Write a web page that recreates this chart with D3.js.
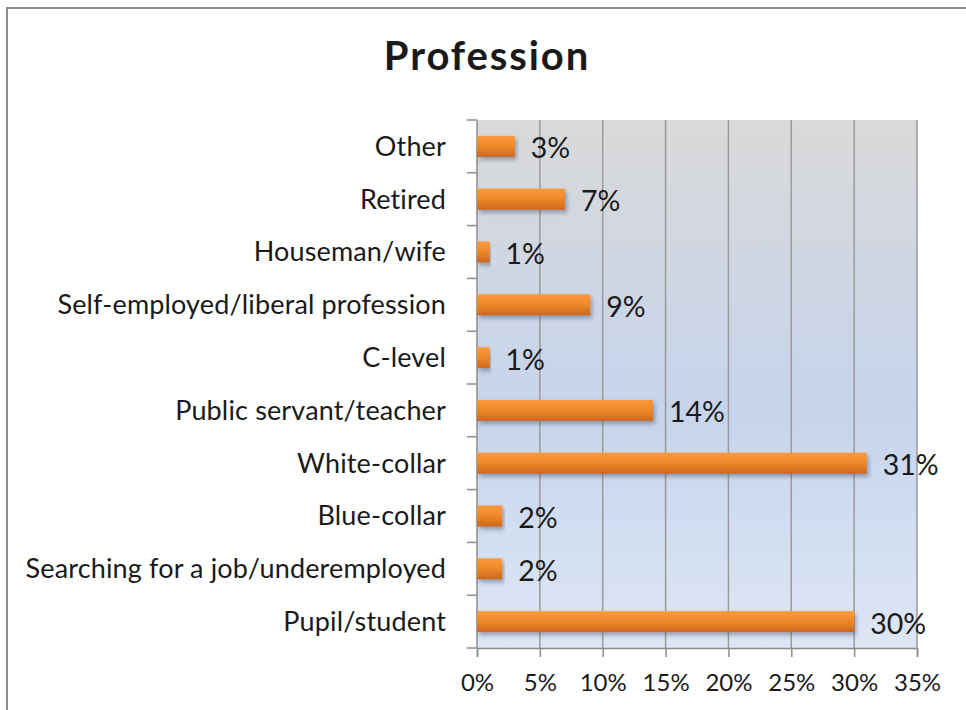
<!DOCTYPE html>
<html>
<head>
<meta charset="utf-8">
<script src="https://cdn.jsdelivr.net/npm/d3@7"></script>
<style>
  html, body { margin: 0; padding: 0; background: #ffffff; }
  svg { display: block; }
  text { font-family: Lato, "Open Sans", sans-serif; fill: #1a1a1a; }
</style>
</head>
<body>
<svg id="chart" width="966" height="710"></svg>
<script>
// Survey answers, listed top to bottom as they appear on the chart
const categories = [
  "Other",
  "Retired",
  "Houseman/wife",
  "Self-employed/liberal profession",
  "C-level",
  "Public servant/teacher",
  "White-collar",
  "Blue-collar",
  "Searching for a job/underemployed",
  "Pupil/student"
];
const shares = [3, 7, 1, 9, 1, 14, 31, 2, 2, 30];   // percent of respondents
const xTicks = [0, 5, 10, 15, 20, 25, 30, 35];
const chartTitle = "Profession";

const svg = d3.select("#chart");
const W = 966, H = 710;
const plot = { left: 477, right: 917, top: 120, bottom: 648 };

const defs = svg.append("defs");

const bg = defs.append("linearGradient")
  .attr("id", "plotBg").attr("x1", 0).attr("y1", 0).attr("x2", 0).attr("y2", 1);
bg.append("stop").attr("offset", "0%").attr("stop-color", "#d9d9d9");
bg.append("stop").attr("offset", "55%").attr("stop-color", "#c6d4ec");
bg.append("stop").attr("offset", "100%").attr("stop-color", "#dde6f4");

const barGrad = defs.append("linearGradient")
  .attr("id", "barFill").attr("x1", 0).attr("y1", 0).attr("x2", 0).attr("y2", 1);
barGrad.append("stop").attr("offset", "0%").attr("stop-color", "#fa9a3c");
barGrad.append("stop").attr("offset", "45%").attr("stop-color", "#f08a2c");
barGrad.append("stop").attr("offset", "100%").attr("stop-color", "#cc681e");

const shadow = defs.append("filter")
  .attr("id", "barShadow").attr("x", "-5%").attr("y", "-30%")
  .attr("width", "115%").attr("height", "190%");
shadow.append("feDropShadow")
  .attr("dx", 2).attr("dy", 3).attr("stdDeviation", 2.2)
  .attr("flood-color", "#3a4a66").attr("flood-opacity", 0.45);

// chart frame
svg.append("rect")
  .attr("x", 7).attr("y", 8).attr("width", W + 20).attr("height", H + 20)
  .attr("fill", "#ffffff").attr("stroke", "#8c8c8c").attr("stroke-width", 2);

// title
svg.append("text")
  .attr("x", 487).attr("y", 70)
  .attr("text-anchor", "middle")
  .attr("font-size", 40).attr("font-weight", 700)
  .attr("letter-spacing", 1.9)
  .text(chartTitle);

const x = d3.scaleLinear().domain([0, 35]).range([plot.left, plot.right]);
const y = d3.scaleBand().domain(categories).range([plot.top, plot.bottom]).paddingInner(0).paddingOuter(0);

// plot background
svg.append("rect")
  .attr("x", plot.left).attr("y", plot.top)
  .attr("width", plot.right - plot.left).attr("height", plot.bottom - plot.top)
  .attr("fill", "url(#plotBg)");

// vertical gridlines
svg.append("g")
  .selectAll("line")
  .data(xTicks.filter(d => d > 0))
  .join("line")
  .attr("x1", d => x(d)).attr("x2", d => x(d))
  .attr("y1", plot.top).attr("y2", plot.bottom)
  .attr("stroke", "#9a9a9a").attr("stroke-width", 1.5);

// x axis
const xAxis = d3.axisBottom(x)
  .tickValues(xTicks)
  .tickFormat(d => d + "%")
  .tickSize(9)
  .tickPadding(17);
const gx = svg.append("g")
  .attr("transform", `translate(0,${plot.bottom})`)
  .call(xAxis);
gx.select(".domain").attr("stroke", "#8c8c8c").attr("stroke-width", 1.5);
gx.selectAll(".tick line").attr("stroke", "#8c8c8c").attr("stroke-width", 1.5);
gx.selectAll(".tick text")
  .attr("font-size", 24).attr("fill", "#1a1a1a")
  .attr("font-family", "Lato, 'Open Sans', sans-serif");

// y axis: category labels, ticks on band boundaries
const gy = svg.append("g");
gy.append("line")
  .attr("x1", plot.left).attr("x2", plot.left)
  .attr("y1", plot.top).attr("y2", plot.bottom)
  .attr("stroke", "#8c8c8c").attr("stroke-width", 1.5);
const bounds = categories.map(c => y(c)).concat([plot.bottom]);
gy.selectAll("line.tick")
  .data(bounds)
  .join("line").attr("class", "tick")
  .attr("x1", plot.left - 10).attr("x2", plot.left)
  .attr("y1", d => d).attr("y2", d => d)
  .attr("stroke", "#8c8c8c").attr("stroke-width", 1.5);
gy.selectAll("text")
  .data(categories)
  .join("text")
  .attr("x", plot.left - 31)
  .attr("y", d => y(d) + y.bandwidth() / 2)
  .attr("dy", "0.35em")
  .attr("text-anchor", "end")
  .attr("font-size", 27)
  .attr("letter-spacing", 0.15)
  .text(d => d);

// bars
const barH = 21;
const rows = categories.map((c, i) => ({ cat: c, v: shares[i] }));
svg.append("g")
  .selectAll("rect")
  .data(rows)
  .join("rect")
  .attr("x", x(0))
  .attr("y", d => y(d.cat) + y.bandwidth() / 2 - barH / 2)
  .attr("width", d => x(d.v) - x(0))
  .attr("height", barH)
  .attr("fill", "url(#barFill)")
  .attr("filter", "url(#barShadow)");

// value labels
svg.append("g")
  .selectAll("text")
  .data(rows)
  .join("text")
  .attr("x", d => x(d.v) + 16)
  .attr("y", d => y(d.cat) + y.bandwidth() / 2 + 2)
  .attr("dy", "0.35em")
  .attr("font-size", 28.5)
  .text(d => d.v + "%");
</script>
</body>
</html>
